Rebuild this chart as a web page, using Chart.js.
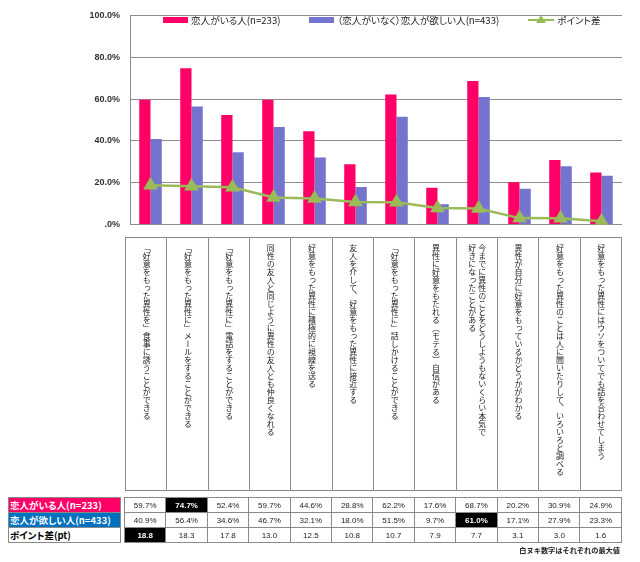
<!DOCTYPE html>
<html><head><meta charset="utf-8">
<script src="https://cdn.jsdelivr.net/npm/chart.js@4.4.1/dist/chart.umd.min.js"></script>
<style>
body{margin:0;background:#fff;font-family:"Liberation Sans","Noto Sans CJK JP",sans-serif;}
#wrap{position:relative;width:640px;height:562px;overflow:hidden;}
#cv{position:absolute;left:0;top:0;}
#legend{position:absolute;left:163px;top:13px;display:flex;gap:29px;align-items:center;font-size:9.6px;color:#222;white-space:nowrap;font-family:"Noto Sans CJK JP",sans-serif;font-feature-settings:"palt";}
#legend .it{display:flex;align-items:center;}
#legend .box{display:inline-block;width:25px;height:6px;margin-right:3px;}
#legend .ln{position:relative;display:inline-block;width:26px;height:2px;margin-right:3px;background:#9BBB59;}
#legend .ln:after{content:"";position:absolute;left:8px;top:-4px;border-left:5px solid transparent;border-right:5px solid transparent;border-bottom:8px solid #9BBB59;}
#labels{position:absolute;left:125px;top:237px;width:497px;height:254px;display:flex;border:1px solid #8a8a8a;box-sizing:border-box;}
#labels .col{flex:1 1 0;height:100%;border-right:1px solid #8a8a8a;display:flex;justify-content:center;padding-top:6px;box-sizing:border-box;}
#labels .col:last-child{border-right:none;}
#labels .vt{writing-mode:vertical-rl;font-family:"Noto Sans CJK JP",sans-serif;font-size:8px;line-height:10px;color:#222;}
table{border-collapse:collapse;table-layout:fixed;position:absolute;}
td{border:1px solid #8a8a8a;height:14px;padding:0;text-align:center;font-size:8px;color:#222;white-space:nowrap;overflow:hidden;}
#rowhead{left:8px;top:497px;width:113px;}
#rowhead td{text-align:left;font-size:9.5px;font-weight:bold;padding-left:1px;font-family:"Noto Sans CJK JP",sans-serif;font-feature-settings:"palt";}
#data{left:124px;top:497px;width:498px;}
td.mx{background:#000;color:#fff;font-weight:bold;}
#note{position:absolute;right:20px;top:545px;font-size:7.2px;font-weight:bold;color:#222;font-family:"Noto Sans CJK JP",sans-serif;}
</style></head>
<body>
<div id="wrap">
<canvas id="cv" width="640" height="240"></canvas>
<div id="legend"></div>
<div id="labels"></div>
<table id="rowhead"></table>
<table id="data"></table>
<div id="note">白ヌキ数字はそれぞれの最大値</div>
</div>
<script>
const categories = [
  ["「好意をもった異性を」食事に誘うことができる"],
  ["「好意をもった異性に」メールをすることができる"],
  ["「好意をもった異性に」電話をすることができる"],
  ["同性の友人と同じように異性の友人とも仲良くなれる"],
  ["好意をもった異性に積極的に視線を送る"],
  ["友人を介して、好意をもった異性に接近する"],
  ["「好意をもった異性に」話しかけることができる"],
  ["異性に好意をもたれる（モテる）自信がある"],
  ["今までに異性のことをどうしようもないくらい本気で","好きになったことがある"],
  ["異性が自分に好意をもっているかどうかがわかる"],
  ["好意をもった異性のことは人に聞いたりして、いろいろと調べる"],
  ["好意をもった異性にはウソをついてでも話を合わせてしまう"]
];
const withPartner = [59.7,74.7,52.4,59.7,44.6,28.8,62.2,17.6,68.7,20.2,30.9,24.9];
const wantPartner = [40.9,56.4,34.6,46.7,32.1,18.0,51.5,9.7,61.0,17.1,27.9,23.3];
const pointDiff   = [18.8,18.3,17.8,13.0,12.5,10.8,10.7,7.9,7.7,3.1,3.0,1.6];
const yTicks = [0,20,40,60,80,100];
const seriesNames = ["恋人がいる人(n=233)","（恋人がいなく）恋人が欲しい人(n=433)","ポイント差"];
const rowNames = ["恋人がいる人(n=233)","恋人が欲しい人(n=433)","ポイント差(pt)"];

const RED="#FF0066", BLUE="#7474CF", GREEN="#9BBB59", GRID="#8e8e8e";

new Chart(document.getElementById('cv'), {
  type:'bar',
  data:{
    labels: categories.map(c=>c.join('')),
    datasets:[
      {type:'line',label:seriesNames[2],data:pointDiff,borderColor:GREEN,backgroundColor:GREEN,borderWidth:2.5,
       pointStyle:'triangle',pointRadius:6,pointBackgroundColor:GREEN,pointBorderColor:GREEN,order:0,tension:0},
      {label:seriesNames[0],data:withPartner,backgroundColor:RED,order:1,categoryPercentage:0.55,barPercentage:1},
      {label:seriesNames[1],data:wantPartner,backgroundColor:BLUE,order:1,categoryPercentage:0.55,barPercentage:1}
    ]
  },
  options:{
    responsive:false,animation:false,
    layout:{padding:{left:0,right:18,top:8,bottom:6}},
    plugins:{legend:{display:false},tooltip:{enabled:false}},
    scales:{
      x:{display:false},
      y:{min:0,max:100,
        afterBuildTicks:s=>{s.ticks=yTicks.map(v=>({value:v}));},
        afterFit:s=>{s.width=130;},
        grid:{color:GRID,drawTicks:false},
        border:{display:true,color:GRID},
        ticks:{padding:10,color:'#333',font:{family:'Liberation Sans',size:9,weight:'bold'},
          callback:v=>v===0?'.0%':v.toFixed(1)+'%'}
      }
    }
  }
});

// legend
const lg=document.getElementById('legend');
[[RED,seriesNames[0]],[BLUE,seriesNames[1]]].forEach(([c,t])=>{
  const d=document.createElement('div');d.className='it';
  d.innerHTML='<span class="box" style="background:'+c+'"></span><span>'+t+'</span>';lg.appendChild(d);
});
{const d=document.createElement('div');d.className='it';
 d.innerHTML='<span class="ln"></span><span>'+seriesNames[2]+'</span>';lg.appendChild(d);}

// vertical labels
const lb=document.getElementById('labels');
categories.forEach(c=>{
  const col=document.createElement('div');col.className='col';
  const v=document.createElement('div');v.className='vt';
  v.innerHTML=c.join('<br>');col.appendChild(v);lb.appendChild(col);
});

// table
const rh=document.getElementById('rowhead');
const rhBg=[RED,'#0070C0','#fff'], rhFg=['#fff','#fff','#000'];
rowNames.forEach((n,i)=>{
  const tr=document.createElement('tr');const td=document.createElement('td');
  td.textContent=n;td.style.background=rhBg[i];td.style.color=rhFg[i];tr.appendChild(td);rh.appendChild(tr);
});
const dt=document.getElementById('data');
[[withPartner,v=>v.toFixed(1)+'%'],[wantPartner,v=>v.toFixed(1)+'%'],[pointDiff,v=>v.toFixed(1)]].forEach(([arr,f])=>{
  const mx=Math.max(...arr);
  const tr=document.createElement('tr');
  arr.forEach(v=>{const td=document.createElement('td');td.textContent=f(v);if(v===mx)td.className='mx';tr.appendChild(td);});
  dt.appendChild(tr);
});
</script>
</body></html>
